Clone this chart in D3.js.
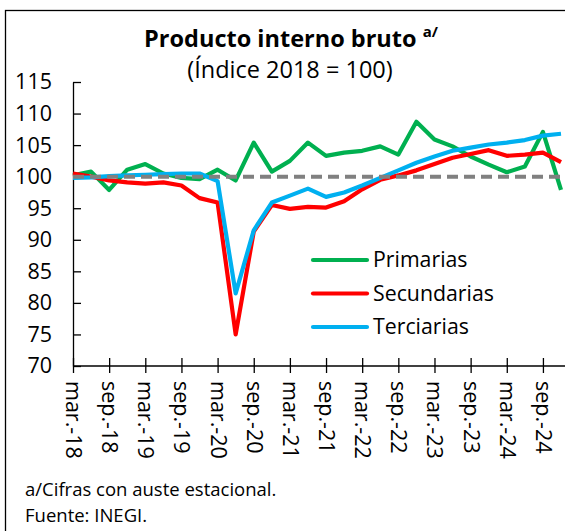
<!DOCTYPE html>
<html>
<head>
<meta charset="utf-8">
<script src="https://cdn.jsdelivr.net/npm/d3@7"></script>
<style>
  html, body { margin: 0; padding: 0; background: #fff; }
  svg { display: block; font-family: "Open Sans", "Noto Sans", sans-serif; }
</style>
</head>
<body>
<div id="chart"></div>
<script>
const WIDTH = 565;
const HEIGHT = 531;

// quarterly, mar-18 .. dic-24
const quarters = [
  'mar.-18', 'jun.-18', 'sep.-18', 'dic.-18',
  'mar.-19', 'jun.-19', 'sep.-19', 'dic.-19',
  'mar.-20', 'jun.-20', 'sep.-20', 'dic.-20',
  'mar.-21', 'jun.-21', 'sep.-21', 'dic.-21',
  'mar.-22', 'jun.-22', 'sep.-22', 'dic.-22',
  'mar.-23', 'jun.-23', 'sep.-23', 'dic.-23',
  'mar.-24', 'jun.-24', 'sep.-24', 'dic.-24'
];

const primarias = [100.2, 100.8, 97.9, 101.1, 102.0, 100.5, 99.8, 99.6, 101.1, 99.4, 105.4, 100.8, 102.5, 105.4,
  103.3, 103.8, 104.1, 104.8, 103.5, 108.7, 105.9, 104.8, 103.2, 101.9, 100.7, 101.6, 107.1, 97.9];
const secundarias = [100.5, 100.0, 99.4, 99.1, 98.9, 99.1, 98.6, 96.6, 95.9, 75.0, 91.3, 95.5, 94.9, 95.2,
  95.1, 96.1, 98.0, 99.5, 100.2, 101.0, 102.0, 103.0, 103.6, 104.2, 103.3, 103.5, 103.8, 102.3];
const terciarias = [99.8, 99.9, 100.1, 100.2, 100.3, 100.4, 100.5, 100.5, 99.3, 81.5, 91.5, 95.9, 97.0, 98.1,
  96.8, 97.5, 98.6, 99.8, 101.0, 102.2, 103.2, 104.1, 104.6, 105.1, 105.4, 105.8, 106.5, 106.8];

const yTicks = [70, 75, 80, 85, 90, 95, 100, 105, 110, 115];
const baseLine = 100;

const series = [
  { name: 'Primarias', values: primarias, color: '#00b050' },
  { name: 'Secundarias', values: secundarias, color: '#ff0000' },
  { name: 'Terciarias', values: terciarias, color: '#00b0f0' }
];

const FONT = '"Open Sans", "Noto Sans", sans-serif';

const svg = d3.select('#chart').append('svg')
  .attr('width', WIDTH)
  .attr('height', HEIGHT);

// outer frame (left and top edges visible)
svg.append('rect')
  .attr('x', 5.5).attr('y', 10.5)
  .attr('width', WIDTH + 20).attr('height', HEIGHT + 20)
  .attr('fill', 'none').attr('stroke', '#000').attr('stroke-width', 1.3);

const x = d3.scaleLinear().domain([0, quarters.length - 1]).range([73, 561]);
const y = d3.scaleLinear().domain([70, 115]).range([366, 82]);

// title
const title = svg.append('text')
  .attr('x', 291).attr('y', 47)
  .attr('text-anchor', 'middle')
  .attr('font-size', 23.5).attr('font-weight', 'bold').attr('fill', '#000');
title.append('tspan').text('Producto interno bruto ');
title.append('tspan').attr('font-size', 15).attr('dy', -10).text('a/');

svg.append('text')
  .attr('x', 290).attr('y', 78)
  .attr('text-anchor', 'middle')
  .attr('font-size', 23.5).attr('fill', '#000')
  .text('(Índice 2018 = 100)');

// y axis
const yAxis = svg.append('g')
  .attr('transform', 'translate(73,0)')
  .call(d3.axisLeft(y).tickValues(yTicks).tickSizeInner(-8).tickSizeOuter(0).tickPadding(21));
yAxis.select('.domain').attr('stroke', '#000').attr('stroke-width', 1.3);
yAxis.selectAll('.tick line').attr('stroke', '#000').attr('stroke-width', 1.3);
yAxis.selectAll('.tick text').attr('font-size', 21.5).attr('fill', '#000')
  .attr('font-family', FONT);

// lines
const line = d3.line()
  .x((d, i) => x(i))
  .y((d) => y(d));

svg.append('g').selectAll('path')
  .data(series)
  .enter().append('path')
  .attr('d', (s) => line(s.values))
  .attr('fill', 'none')
  .attr('stroke', (s) => s.color)
  .attr('stroke-width', 4.2)
  .attr('stroke-linejoin', 'round');

// reference line at 100
svg.append('line')
  .attr('x1', x(0)).attr('x2', WIDTH)
  .attr('y1', y(baseLine)).attr('y2', y(baseLine))
  .attr('stroke', '#808080')
  .attr('stroke-width', 4)
  .attr('stroke-dasharray', '11,6');

// x axis
const xAxis = svg.append('g')
  .attr('transform', 'translate(0,366)')
  .call(d3.axisBottom(x)
    .tickValues(d3.range(0, quarters.length, 2))
    .tickFormat((i) => quarters[i])
    .tickSizeInner(7).tickSizeOuter(0));
xAxis.select('.domain').attr('d', `M${x(0)},0H${WIDTH}`).attr('stroke', '#000').attr('stroke-width', 1.3);
xAxis.selectAll('.tick line').attr('y1', -8).attr('stroke', '#000').attr('stroke-width', 1.3);
xAxis.selectAll('.tick text')
  .attr('font-size', 21.5).attr('fill', '#000')
  .attr('font-family', FONT)
  .attr('transform', 'rotate(90)')
  .attr('text-anchor', 'start')
  .attr('x', 15).attr('y', 0).attr('dy', '0.35em');

// legend
const legend = svg.append('g').selectAll('g')
  .data(series)
  .enter().append('g')
  .attr('transform', (s, i) => `translate(313,${260 + i * 33.5})`);
legend.append('line')
  .attr('x1', 0).attr('x2', 54)
  .attr('stroke', (s) => s.color)
  .attr('stroke-width', 4.2)
  .attr('stroke-linecap', 'round');
legend.append('text')
  .attr('x', 60).attr('dy', '0.35em')
  .attr('font-size', 21.3).attr('fill', '#000')
  .text((s) => s.name);

// notes
svg.append('text')
  .attr('x', 25).attr('y', 496)
  .attr('font-size', 18.5).attr('fill', '#000')
  .text('a/Cifras con auste estacional.');
svg.append('text')
  .attr('x', 25).attr('y', 522)
  .attr('font-size', 18.5).attr('fill', '#000')
  .text('Fuente: INEGI.');
</script>
</body>
</html>
